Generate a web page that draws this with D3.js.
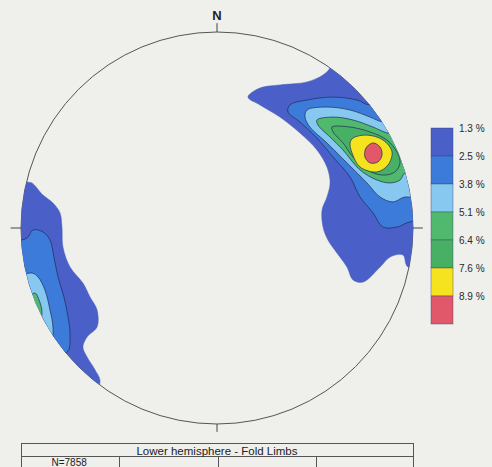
<!DOCTYPE html>
<html>
<head>
<meta charset="utf-8">
<script src="https://cdn.jsdelivr.net/npm/d3@7"></script>
<style>
  body { margin: 0; background: #efefec; }
  svg { display: block; font-family: "Liberation Sans", Arial, sans-serif; }
</style>
</head>
<body>
<script>
// contour levels (percent of points per 1% area)
var levels = ["1.3 %", "2.5 %", "3.8 %", "5.1 %", "6.4 %", "7.6 %", "8.9 %"];
var levelColors = ["#4a60c8", "#3d7bdb", "#86c8f0", "#50b96e", "#47b064", "#f4e31e", "#e0586a"];

// contour outlines in net coordinates (x east, y north, unit radius), one ring per level
var eastContours = [
  [[0.577,0.816],[0.541,0.781],[0.459,0.745],[0.321,0.730],[0.219,0.714],[0.158,0.668],[0.219,0.628],
   [0.321,0.566],[0.423,0.485],[0.510,0.398],[0.561,0.311],[0.577,0.230],[0.561,0.158],[0.536,0.092],
   [0.541,0.005],[0.566,-0.061],[0.612,-0.128],[0.663,-0.199],[0.694,-0.265],[0.745,-0.276],
   [0.832,-0.199],[0.883,-0.148],[0.949,-0.138],[0.974,-0.199],[1.2,-0.22],[1.25,0.4],[0.95,1.0],[0.68,1.05]],
  [[0.372,0.628],[0.459,0.653],[0.592,0.668],[0.714,0.653],[0.781,0.628],[1.1,0.7],[1.15,0.1],
   [0.969,0.026],[0.918,0.005],[0.847,0.005],[0.796,0.077],[0.730,0.158],[0.679,0.260],[0.592,0.362],
   [0.510,0.459],[0.423,0.541],[0.362,0.592]],
  [[0.449,0.566],[0.459,0.602],[0.561,0.617],[0.679,0.602],[0.781,0.566],[0.847,0.541],[1.05,0.55],
   [1.1,0.15],[0.959,0.158],[0.898,0.133],[0.832,0.158],[0.765,0.230],[0.663,0.332],[0.561,0.434],
   [0.474,0.515]],
  [[0.515,0.526],[0.510,0.551],[0.592,0.566],[0.694,0.551],[0.796,0.515],[0.867,0.485],[1.05,0.45],
   [1.05,0.27],[0.959,0.281],[0.934,0.245],[0.883,0.230],[0.816,0.245],[0.730,0.296],[0.643,0.398],
   [0.577,0.464]],
  [[0.592,0.490],[0.587,0.515],[0.679,0.515],[0.781,0.490],[0.867,0.449],[0.918,0.388],[0.934,0.332],
   [0.908,0.286],[0.847,0.270],[0.765,0.296],[0.694,0.362],[0.643,0.434]],
  [[0.694,0.459],[0.765,0.474],[0.847,0.449],[0.893,0.388],[0.872,0.321],[0.816,0.286],[0.730,0.311],
   [0.689,0.383],[0.679,0.434]],
  [[0.796,0.434],[0.832,0.413],[0.842,0.372],[0.821,0.337],[0.781,0.332],[0.755,0.362],[0.760,0.408]]
];

var westContours = [
  [[-0.969,0.235],[-0.944,0.230],[-0.888,0.168],[-0.837,0.128],[-0.801,0.077],[-0.791,0.005],
   [-0.786,-0.097],[-0.750,-0.199],[-0.684,-0.281],[-0.648,-0.352],[-0.612,-0.418],[-0.612,-0.505],
   [-0.663,-0.556],[-0.684,-0.607],[-0.663,-0.658],[-0.622,-0.724],[-0.597,-0.786],[-0.7,-0.95],
   [-1.15,-0.3],[-1.1,0.3]],
  [[-0.939,-0.010],[-0.888,-0.020],[-0.852,-0.061],[-0.832,-0.148],[-0.811,-0.250],[-0.781,-0.352],
   [-0.760,-0.454],[-0.750,-0.546],[-0.765,-0.633],[-0.92,-0.62],[-1.1,-0.1],[-0.969,-0.051]],
  [[-0.944,-0.230],[-0.913,-0.250],[-0.878,-0.316],[-0.852,-0.418],[-0.837,-0.505],[-0.842,-0.561],
   [-0.867,-0.546],[-1.02,-0.45],[-1.0,-0.25]],
  [[-0.929,-0.332],[-0.908,-0.367],[-0.893,-0.429],[-0.903,-0.469],[-1.0,-0.4]]
];

var netLabel = "N";
var tableTitle = "Lower hemisphere - Fold Limbs";
var tableCells = ["N=7858", "", "", ""];

(function() {
  var W = 492, H = 467,
      cx = 217, cy = 228, r = 196;

  var svg = d3.select("body").append("svg").attr("width", W).attr("height", H);

  var x = d3.scaleLinear().domain([-1, 1]).range([cx - r, cx + r]),
      y = d3.scaleLinear().domain([-1, 1]).range([cy + r, cy - r]);

  svg.append("clipPath").attr("id", "net")
    .append("circle").attr("cx", cx).attr("cy", cy).attr("r", r);

  // primitive circle + cardinal ticks
  svg.append("circle")
    .attr("cx", cx).attr("cy", cy).attr("r", r)
    .attr("fill", "none").attr("stroke", "#555").attr("stroke-width", 1);

  var ticks = [[0, 1, 0, 1.045], [0, -1, 0, -1.04], [-1, 0, -1.053, 0], [1, 0, 1.05, 0]];
  svg.selectAll("line.tick").data(ticks).enter().append("line")
    .attr("class", "tick")
    .attr("x1", function(d) { return x(d[0]); }).attr("y1", function(d) { return y(d[1]); })
    .attr("x2", function(d) { return x(d[2]); }).attr("y2", function(d) { return y(d[3]); })
    .attr("stroke", "#444").attr("stroke-width", 1);

  svg.append("text")
    .attr("x", x(0)).attr("y", 20)
    .attr("text-anchor", "middle")
    .attr("font-size", 13).attr("font-weight", "bold").attr("fill", "#222")
    .text(netLabel);

  var line = d3.line()
    .x(function(d) { return x(d[0]); })
    .y(function(d) { return y(d[1]); })
    .curve(d3.curveCatmullRomClosed.alpha(0.5));

  var g = svg.append("g").attr("clip-path", "url(#net)");

  [eastContours, westContours].forEach(function(set) {
    g.append("g").selectAll("path")
      .data(set)
      .enter()
      .append("path")
      .attr("d", line)
      .attr("fill", function(d, i) { return levelColors[i]; })
      .attr("stroke", function(d, i) { return i == 0 ? "#4a5cb8" : "#1f2a55"; })
      .attr("stroke-width", function(d, i) { return i == 0 ? 0.5 : 0.7; });
  });

  // legend
  var ly = d3.scaleLinear().domain([0, levels.length]).range([128, 324]);
  var leg = svg.append("g");
  leg.selectAll("rect")
    .data(levels)
    .enter()
    .append("rect")
    .attr("x", 431).attr("width", 22)
    .attr("y", function(d, i) { return ly(i); })
    .attr("height", function(d, i) { return ly(i + 1) - ly(i); })
    .attr("fill", function(d, i) { return levelColors[i]; })
    .attr("stroke", "#3a3f66").attr("stroke-width", 0.4);
  leg.selectAll("text")
    .data(levels)
    .enter()
    .append("text")
    .attr("x", 459)
    .attr("y", function(d, i) { return ly(i) + 3.5; })
    .attr("font-size", 10).attr("fill", "#2a2a2a")
    .text(function(d) { return d; });

  // info table
  var tx = d3.scaleBand().domain(d3.range(tableCells.length)).range([21, 414]);
  var tbl = svg.append("g").attr("fill", "none").attr("stroke", "#555").attr("stroke-width", 1);
  tbl.append("rect").attr("x", 21.5).attr("y", 443.5).attr("width", 392).attr("height", 40);
  tbl.append("line").attr("x1", 21.5).attr("x2", 413.5).attr("y1", 456.5).attr("y2", 456.5);
  tbl.selectAll("line.col")
    .data(d3.range(1, tableCells.length))
    .enter()
    .append("line")
    .attr("class", "col")
    .attr("x1", function(d) { return Math.round(tx(d)) + 0.5; })
    .attr("x2", function(d) { return Math.round(tx(d)) + 0.5; })
    .attr("y1", 456.5).attr("y2", 484);

  svg.append("text")
    .attr("x", x(0)).attr("y", 455)
    .attr("text-anchor", "middle").attr("font-size", 11.5).attr("fill", "#222")
    .text(tableTitle);

  svg.selectAll("text.cell")
    .data(tableCells)
    .enter()
    .append("text")
    .attr("class", "cell")
    .attr("x", function(d, i) { return tx(i) + tx.bandwidth() / 2 - 1; })
    .attr("y", 466)
    .attr("text-anchor", "middle").attr("font-size", 10).attr("fill", "#222")
    .text(function(d) { return d; });
})();
</script>
</body>
</html>
